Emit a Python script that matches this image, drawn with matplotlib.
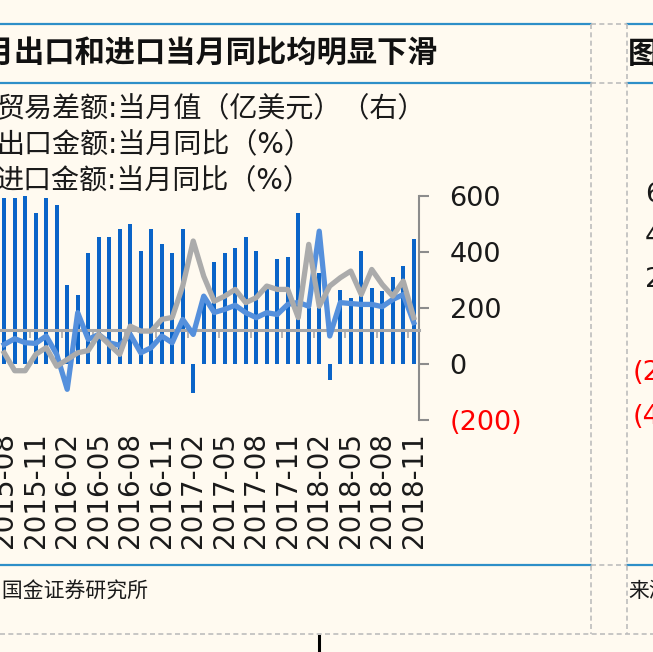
import numpy as np
import matplotlib
matplotlib.use('Agg')
import matplotlib.pyplot as plt
from matplotlib.lines import Line2D

plt.rcParams['font.family'] = ['DejaVu Sans', 'Noto Sans CJK SC']

# months 2015-08 .. 2018-11
months = [f'{y}-{m:02d}' for y in range(2015, 2019) for m in range(1, 13)][7:47]

# trade balance, 100m USD (right axis)
balance = [592, 592, 604, 538, 592, 568, 282, 246, 395, 452,
           452, 482, 499, 404, 482, 429, 395, 482, -105, 240,
           365, 395, 413, 452, 404, 270, 375, 382, 538, 200,
           324, -57, 264, 235, 404, 270, 261, 312, 351, 445]

# export yoy %, import yoy % (left axis, not visible)
export_yoy = [-6.3, -3.7, -5.5, -5.8, -2.5, -10.7, -26.3, 7.9, -4.0, -1.8,
              -5.5, -6.7, -1.8, -10.0, -7.7, -2.5, -5.5, 4.9, -1.8, 15.3,
              8.0, 9.4, 11.2, 7.9, 5.7, 7.9, 7.1, 11.6, 12.5, 10.8,
              44.3, -2.5, 12.4, 12.0, 11.6, 11.6, 10.6, 13.8, 16.0, 3.5]
import_yoy = [-10.0, -18.0, -18.0, -10.7, -7.7, -16.0, -13.0, -10.0, -9.0, -1.8,
              -6.3, -10.7, 1.9, -0.3, -0.3, 4.9, 5.8, 19.8, 39.9, 24.2,
              13.0, 15.3, 18.3, 12.4, 14.6, 19.8, 18.3, 18.3, 5.7, 38.4,
              10.8, 19.8, 23.5, 26.5, 16.0, 27.2, 20.5, 15.3, 22.0, 5.7]

legend_rows = ['贸易差额:当月值（亿美元）（右）', '出口金额:当月同比（%）', '进口金额:当月同比（%）']
right_ticks = [-200, 0, 200, 400, 600]
right_labels = ['(200)', '0', '200', '400', '600']
# tick labels of the neighbouring chart that show at the right edge
side_labels = ['6', '4', '2', '(2', '(4']
side_y = [195, 237, 280, 373, 417]

W, H = 653, 652
BG = '#FFFAF0'
BLUE_FRAME = '#2E8FC8'
DASH = '#BDBDBD'


def fx(x):
	return x / W


def fy(y):
	return 1 - y / H


def hline(x0, x1, y, **kw):
	fig.add_artist(Line2D([fx(x0), fx(x1)], [fy(y), fy(y)], transform=fig.transFigure, **kw))


def vline(x, y0, y1, **kw):
	fig.add_artist(Line2D([fx(x), fx(x)], [fy(y0), fy(y1)], transform=fig.transFigure, **kw))


fig = plt.figure(figsize=(W / 100, H / 100), dpi=100, facecolor=BG)

rect = [fx(0), fy(420), fx(419), 224 / H]
x = np.arange(len(months))

# bars on the right axis
ax = fig.add_axes(rect)
ax.set_facecolor(BG)
ax.bar(x, balance, width=0.38, color='#0A64C8', zorder=2)
ax.set_xlim(-0.4, 39.5)
ax.set_ylim(-200, 600)
for s in ['left', 'top', 'bottom']:
	ax.spines[s].set_visible(False)
ax.spines['right'].set_color('#8C8C8C')
ax.spines['right'].set_linewidth(1.5)
ax.yaxis.tick_right()
ax.set_yticks(right_ticks)
ax.set_yticklabels(right_labels)
ax.tick_params(axis='y', direction='out', length=7, width=1.5, color='#8C8C8C',
	pad=15, labelsize=19.5, labelcolor='#1A1A1A')
for lab, v in zip(ax.get_yticklabels(), right_ticks):
	if v < 0:
		lab.set_color('#FF0000')
ax.set_xticks(x[::3])
ax.set_xticklabels(months[::3], rotation=90)
ax.tick_params(axis='x', length=0, pad=8.5, labelsize=20, labelcolor='#1A1A1A')

# lines on the hidden left axis
ax2 = fig.add_axes(rect, zorder=3)
ax2.patch.set_visible(False)
ax2.plot(x, export_yoy, color='#5590DC', lw=3.8, zorder=3, solid_joinstyle='round')
ax2.plot(x, import_yoy, color='#ABABAB', lw=3.8, zorder=3, solid_joinstyle='round')
ax2.set_xlim(-0.4, 39.5)
ax2.set_ylim(-40, 60)
for s in ['left', 'top', 'right']:
	ax2.spines[s].set_visible(False)
ax2.spines['bottom'].set_position(('data', 0))
ax2.spines['bottom'].set_color('#A8A8A8')
ax2.spines['bottom'].set_linewidth(2.2)
ax2.set_yticks([])
ax2.set_xticks(np.arange(2.5, 39.6, 3))
ax2.tick_params(axis='x', length=6, width=1.2, color='#A8A8A8', labelbottom=False)

# frame of the report table
for y in [24, 83, 565]:
	hline(0, 591, y, color=BLUE_FRAME, lw=1.6)
	hline(627, W, y, color=BLUE_FRAME, lw=1.6)
for y in [24, 83, 565]:
	hline(591, 627, y, color=DASH, lw=1.2, ls=(0, (3, 2)))
hline(0, W, 634, color=DASH, lw=1.2, ls=(0, (3, 2)))
vline(591, 24, 634, color=DASH, lw=1.2, ls=(0, (3, 2)))
vline(627, 24, 634, color=DASH, lw=1.2, ls=(0, (3, 2)))
vline(319, 636, H, color='black', lw=2.2)

# titles
fig.text(fx(438), fy(53), '图表2：11月出口和进口当月同比均明显下滑', ha='right', va='center',
	fontsize=21.8, fontweight='bold', fontstyle='italic', color='#111111')
fig.text(fx(628), fy(55), '图表3：出口增速', ha='left', va='center',
	fontsize=21.8, fontweight='bold', fontstyle='italic', color='#111111')

# legend text (markers are off the left edge)
for i, t in enumerate(legend_rows):
	fig.text(fx(-4), fy(108 + i * 36), t, ha='left', va='center', fontsize=20.2, color='#1A1A1A')

# source
fig.text(fx(148), fy(592), '来源：Wind，国金证券研究所', ha='right', va='center', fontsize=15, color='#1A1A1A')
fig.text(fx(628), fy(592), '来源：Wind，国金证券研究所', ha='left', va='center', fontsize=15, color='#1A1A1A')

for t, y in zip(side_labels, side_y):
	fig.text(fx(645 if not t.startswith('(') else 633), fy(y), t, ha='left', va='center',
		fontsize=19.5, color='#FF0000' if t.startswith('(') else '#1A1A1A')

fig.savefig('out.png', dpi=100, facecolor=BG)
